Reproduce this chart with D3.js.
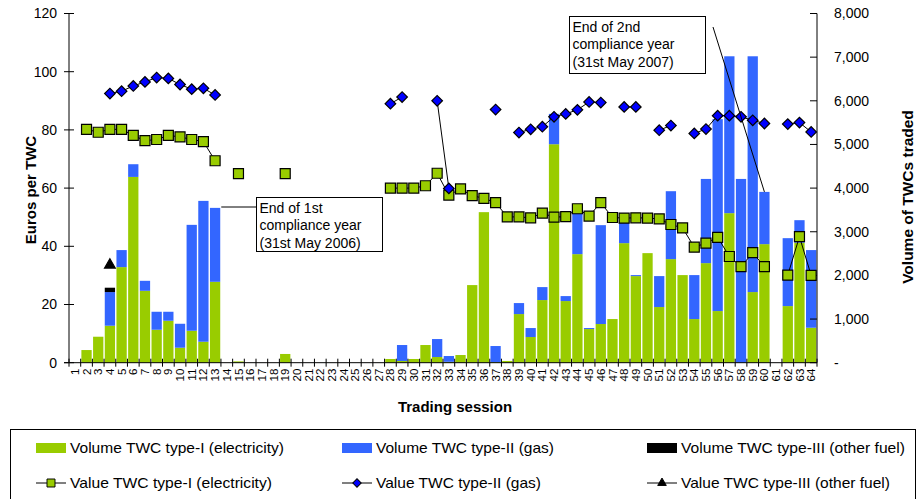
<!DOCTYPE html>
<html>
<head>
<meta charset="utf-8">
<script src="https://cdnjs.cloudflare.com/ajax/libs/d3/7.8.5/d3.min.js"></script>
<style>
  body { margin: 0; background: #fff; }
  svg { display: block; font-family: "Liberation Sans", Arial, sans-serif; }
</style>
</head>
<body>
<svg id="chart"></svg>
<script>
// sessions 1..64
const sessions = d3.range(1, 65);

// volumes (TWCs traded), right axis
const volElec = [0, 290, 595, 847, 2190, 4256, 1647, 755, 961, 343, 732, 480, 1853, 0, 30, 0,
  0, 0, 200, 0, 0, 0, 0, 0, 0, 0, 0, 85, 40, 85, 405, 130,
  20, 176, 1778, 3449, 15, 40, 1114, 588, 1435, 5005, 1412, 2487, 771, 886, 1000, 2739,
  1984, 2510, 1275, 2373, 2007, 1000, 2281, 1183, 3426, 0, 1618, 2716, 0, 1297, 2750, 801];
const volGas = [0, 0, 0, 771, 390, 291, 229, 412, 206, 549, 2426, 3227, 1694, 0, 0, 0,
  0, 0, 0, 0, 0, 0, 0, 0, 0, 0, 0, 0, 365, 0, 0, 412,
  133, 0, 0, 0, 367, 0, 252, 206, 297, 695, 114, 1013, 23, 2265, 0, 526,
  23, 0, 709, 1556, 0, 1007, 1929, 4397, 3594, 4210, 5402, 1197, 0, 1556, 515, 1779];
const volOther = [0, 0, 0, 100, 0, 0, 0, 0, 0, 0, 0, 0, 0, 0, 0, 0,
  0, 0, 0, 0, 0, 0, 0, 0, 0, 0, 0, 0, 0, 0, 0, 0,
  0, 0, 0, 0, 0, 0, 0, 0, 0, 0, 0, 0, 0, 0, 0, 0,
  0, 0, 0, 0, 0, 0, 0, 0, 0, 0, 0, 0, 0, 0, 0, 0];

// prices (Euros per TWC), left axis; null = no trade
const n = null;
const priceElec = [n, 80.2, 79.2, 80.2, 80.2, 78.1, 76.3, 76.7, 78.1, 77.6, 76.7, 76.0, 69.4, n, 65, n,
  n, n, 65, n, n, n, n, n, n, n, n, 60, 60, 60, 60.8, 65.1,
  57.6, 59.7, 57.4, 56.5, 55.0, 50.1, 50.1, 49.8, 51.4, 50.0, 50.2, 52.9, 50.4, 55.0, 49.9, 49.7,
  49.8, 49.7, 49.4, 47.5, 46.3, 39.7, 41.1, 43.1, 36.5, 33.0, 37.8, 33.0, n, 30.1, 43.3, 30.0];
const priceGas = [n, n, n, 92.5, 93.3, 95.1, 96.5, 98.0, 97.7, 95.6, 94.0, 94.3, 92.0, n, n, n,
  n, n, n, n, n, n, n, n, n, n, n, 89.0, 91.3, n, n, 90.0,
  59.9, n, n, n, 87.0, n, 79.1, 80.2, 81.1, 84.5, 85.5, 86.9, 89.6, 89.4, n, 87.9,
  87.9, n, 79.9, 81.5, n, 78.8, 80.3, 84.9, 84.9, 84.5, 83.3, 82.2, n, 82.0, 82.5, 79.3];
const priceOther = sessions.map(s => s === 4 ? 33.6 : null);

const leftTicks = [0, 20, 40, 60, 80, 100, 120];
const rightTicks = [0, 1000, 2000, 3000, 4000, 5000, 6000, 7000, 8000];

const W = 921, H = 499;
const plotL = 69, plotR = 817, plotT = 13.5, plotB = 362.7;

const svg = d3.select("#chart").attr("width", W).attr("height", H);

const x = d3.scaleBand().domain(sessions).range([plotL, plotR])
  .paddingInner(0.12).paddingOuter(0.06);
const step = x.step();
const yL = d3.scaleLinear().domain([0, 120]).range([plotB, plotT]);
const yR = d3.scaleLinear().domain([0, 8000]).range([plotB, plotT]);

const green = "#99CC00", blue = "#3366FF";

// stacked bars
const rows = sessions.map((s, i) => ({ s, elec: volElec[i], gas: volGas[i], other: volOther[i] }));
const stack = d3.stack().keys(["elec", "gas", "other"])(rows);
const colors = { elec: green, gas: blue, other: "#000" };

svg.append("g").selectAll("g").data(stack).join("g")
  .attr("fill", d => colors[d.key])
  .selectAll("rect").data(d => d.filter(p => p[1] > p[0])).join("rect")
  .attr("x", d => x(d.data.s))
  .attr("width", x.bandwidth())
  .attr("y", d => yR(d[1]))
  .attr("height", d => yR(d[0]) - yR(d[1]));

// axes
const ax = svg.append("g").attr("stroke", "#000").attr("stroke-width", 1);
ax.append("line").attr("x1", plotL).attr("x2", plotL).attr("y1", plotT).attr("y2", plotB);
ax.append("line").attr("x1", plotR).attr("x2", plotR).attr("y1", plotT).attr("y2", plotB);
ax.append("line").attr("x1", plotL - 5).attr("x2", plotR).attr("y1", plotB).attr("y2", plotB);

ax.selectAll(".lt").data(leftTicks).join("line")
  .attr("x1", plotL - 5).attr("x2", plotL + 5)
  .attr("y1", d => yL(d)).attr("y2", d => yL(d));
ax.selectAll(".rt").data(rightTicks).join("line")
  .attr("x1", plotR - 7).attr("x2", plotR)
  .attr("y1", d => yR(d)).attr("y2", d => yR(d));
ax.selectAll(".xt").data(d3.range(0, 65)).join("line")
  .attr("x1", d => plotL + d * step).attr("x2", d => plotL + d * step)
  .attr("y1", plotB - 4).attr("y2", plotB + 4);

svg.append("g").selectAll("text").data(leftTicks).join("text")
  .attr("x", plotL - 12).attr("y", d => yL(d)).attr("dy", "0.35em")
  .attr("text-anchor", "end").attr("font-size", 14).text(d => d);

svg.append("g").selectAll("text").data(rightTicks).join("text")
  .attr("x", 834).attr("y", d => yR(d)).attr("dy", "0.35em")
  .attr("font-size", 14).text(d => d === 0 ? "-" : d3.format(",")(d));

svg.append("g").selectAll("text").data(sessions).join("text")
  .attr("transform", d => `translate(${x(d) + x.bandwidth() / 2},${plotB + 6}) rotate(-90)`)
  .attr("dy", "0.35em").attr("text-anchor", "end").attr("font-size", 11.5)
  .text(d => d);

// axis titles
svg.append("text").attr("transform", "translate(36,190) rotate(-90)")
  .attr("text-anchor", "middle").attr("font-size", 15).attr("font-weight", "bold")
  .text("Euros per TWC");
svg.append("text").attr("transform", "translate(913,197) rotate(-90)")
  .attr("text-anchor", "middle").attr("font-size", 15.5).attr("font-weight", "bold")
  .text("Volume of TWCs traded");
svg.append("text").attr("x", 455).attr("y", 412)
  .attr("text-anchor", "middle").attr("font-size", 15).attr("font-weight", "bold")
  .text("Trading session");

// price lines
const cx = s => x(s) + x.bandwidth() / 2;
const line = d3.line().defined(d => d.v != null).x(d => cx(d.s)).y(d => yL(d.v));
const asPts = arr => sessions.map((s, i) => ({ s, v: arr[i] }));

const square = d3.symbol().type(d3.symbolSquare).size(100);
const diamond = d3.symbol().type(d3.symbolSquare).size(56);
const tri = d3.symbol().type(d3.symbolTriangle).size(50);

function series(arr, sym, fill, rotate) {
  const pts = asPts(arr);
  svg.append("path").datum(pts).attr("d", line)
    .attr("fill", "none").attr("stroke", "#000").attr("stroke-width", 1);
  svg.append("g").selectAll("path").data(pts.filter(d => d.v != null)).join("path")
    .attr("d", sym)
    .attr("transform", d => `translate(${cx(d.s)},${yL(d.v)})` + (rotate ? " rotate(45)" : ""))
    .attr("fill", fill).attr("stroke", "#000").attr("stroke-width", 1.2);
}
series(priceElec, square, green, false);
series(priceGas, diamond, "#0000FF", true);
series(priceOther, tri, "#000", false);

// annotations
function note(bx, by, bw, bh, lines, lx1, ly1, lx2, ly2) {
  svg.append("line").attr("x1", lx1).attr("y1", ly1).attr("x2", lx2).attr("y2", ly2)
    .attr("stroke", "#000").attr("stroke-width", 1);
  svg.append("rect").attr("x", bx).attr("y", by).attr("width", bw).attr("height", bh)
    .attr("fill", "#fff").attr("stroke", "#000").attr("stroke-width", 1);
  svg.append("g").selectAll("text").data(lines).join("text")
    .attr("x", bx + 3).attr("y", (d, i) => by + 15 + i * 17.7)
    .attr("font-size", 14).text(d => d);
}
note(256.5, 197.5, 126, 54, ["End of 1st", "compliance year", "(31st May 2006)"],
  x(13) + x.bandwidth() + 1, 207, 256.5, 207);
note(569.5, 16.5, 136, 57, ["End of 2nd", "compliance year", "(31st May 2007)"],
  713, 27, cx(60), yR(volElec[59] + volGas[59]));

// legend
const leg = svg.append("g");
leg.append("rect").attr("x", 10.5).attr("y", 429.5).attr("width", 905).attr("height", 80)
  .attr("fill", "none").attr("stroke", "#000").attr("stroke-width", 1);

const legCols = [36, 342, 647];
const volItems = [
  { label: "Volume TWC type-I (electricity)", color: green, w: 214 },
  { label: "Volume TWC type-II (gas)", color: blue, w: 178 },
  { label: "Volume TWC type-III (other fuel)", color: "#000", w: 224 }
];
const valItems = [
  { label: "Value TWC type-I (electricity)", sym: square, fill: green, rot: false, w: 202 },
  { label: "Value TWC type-II (gas)", sym: diamond, fill: "#0000FF", rot: true, w: 165 },
  { label: "Value TWC type-III (other fuel)", sym: tri, fill: "#000", rot: false, w: 209 }
];
volItems.forEach((d, i) => {
  leg.append("rect").attr("x", legCols[i]).attr("y", 443).attr("width", 30).attr("height", 10)
    .attr("fill", d.color);
  leg.append("text").attr("x", legCols[i] + 34).attr("y", 448).attr("dy", "0.35em")
    .attr("font-size", 14.5).attr("textLength", d.w).attr("lengthAdjust", "spacingAndGlyphs")
    .text(d.label);
});
valItems.forEach((d, i) => {
  const lx = legCols[i];
  leg.append("line").attr("x1", lx).attr("x2", lx + 30).attr("y1", 483).attr("y2", 483)
    .attr("stroke", "#000");
  leg.append("path").attr("d", d.sym)
    .attr("transform", `translate(${lx + 15},483) scale(0.8)` + (d.rot ? " rotate(45)" : ""))
    .attr("fill", d.fill).attr("stroke", "#000").attr("stroke-width", 1.2);
  leg.append("text").attr("x", lx + 34).attr("y", 483).attr("dy", "0.35em")
    .attr("font-size", 14.5).attr("textLength", d.w).attr("lengthAdjust", "spacingAndGlyphs")
    .text(d.label);
});
</script>
</body>
</html>
